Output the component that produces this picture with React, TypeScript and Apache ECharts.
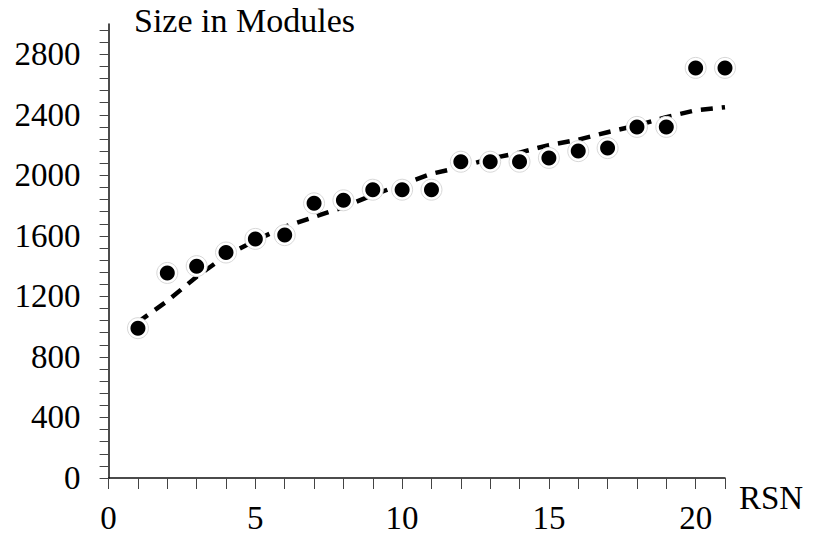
import React, { useEffect, useRef } from "react";
import * as echarts from "echarts";

const rsn = [1, 2, 3, 4, 5, 6, 7, 8, 9, 10, 11, 12, 13, 14, 15, 16, 17, 18, 19, 20, 21];
const actualSize = [990, 1355, 1400, 1490, 1580, 1605, 1815, 1835, 1905, 1905, 1905, 2090, 2090, 2090, 2115, 2160, 2180, 2320, 2320, 2710, 2710];
const trendSize = [1030, 1170, 1330, 1470, 1570, 1660, 1725, 1790, 1870, 1940, 2010, 2055, 2110, 2150, 2200, 2235, 2285, 2330, 2385, 2430, 2450];
const yLabelValues = [0, 400, 800, 1200, 1600, 2000, 2400, 2800];
const xLabelValues = [0, 5, 10, 15, 20];
const yTickValues: number[] = [];
for (let v = 0; v <= 2960; v += 80) yTickValues.push(v);
const xTickValues: number[] = [];
for (let v = 0; v <= 21; v += 1) xTickValues.push(v);

const FONT = "'Liberation Serif', 'Times New Roman', serif";

export default function App() {
  const ref = useRef<HTMLDivElement>(null);
  useEffect(() => {
    if (!ref.current) return;
    const chart = echarts.init(ref.current, undefined, { renderer: "svg" });
    chart.setOption({
      animation: false,
      backgroundColor: "#fff",
      grid: { left: 108.6, right: 90, top: 24, bottom: 63 },
      xAxis: {
        type: "value",
        min: 0,
        max: 21,
        splitLine: { show: false },
        axisLine: { lineStyle: { color: "#111", width: 1.5 } },
        axisTick: { customValues: xTickValues, length: 11, lineStyle: { color: "#444", width: 1 } },
        axisLabel: {
          customValues: xLabelValues,
          margin: 23,
          color: "#000",
          fontSize: 33,
          fontFamily: FONT,
          formatter: (v: number) => String(v),
        },
      },
      yAxis: {
        type: "value",
        min: 0,
        max: 3000,
        splitLine: { show: false },
        axisLine: { show: true, lineStyle: { color: "#111", width: 1.5 } },
        axisTick: { show: true, customValues: yTickValues, length: 9, lineStyle: { color: "#444", width: 1 } },
        axisLabel: {
          customValues: yLabelValues,
          margin: 28,
          color: "#000",
          fontSize: 33,
          fontFamily: FONT,
          formatter: (v: number) => String(v),
        },
      },
      graphic: [
        { type: "text", left: 134, top: 3, style: { text: "Size in Modules", fill: "#000", fontSize: 34, fontFamily: FONT } },
        { type: "text", left: 739, top: 481, style: { text: "RSN", fill: "#000", fontSize: 33, fontFamily: FONT } },
      ],
      series: [
        {
          type: "line",
          data: rsn.map((x, i) => [x, trendSize[i]]),
          showSymbol: false,
          lineStyle: { color: "#000", width: 4.5, type: [12, 9] },
          z: 1,
        },
        {
          type: "scatter",
          data: rsn.map((x, i) => [x, actualSize[i]]),
          symbolSize: 21,
          itemStyle: { color: "#fff", borderColor: "#d8d8d8", borderWidth: 1, opacity: 1 },
          z: 2,
        },
        {
          type: "scatter",
          data: rsn.map((x, i) => [x, actualSize[i]]),
          symbolSize: 15,
          itemStyle: { color: "#000", opacity: 1 },
          z: 3,
        },
      ],
    });
    return () => chart.dispose();
  }, []);
  return <div ref={ref} style={{ position: "fixed", left: 0, top: 0, width: 815, height: 541 }} />;
}
